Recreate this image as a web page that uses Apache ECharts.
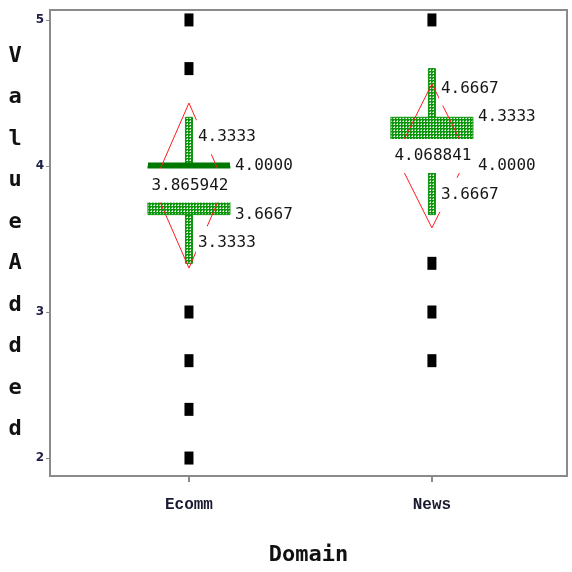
<!DOCTYPE html>
<html>
<head>
<meta charset="utf-8">
<script src="https://cdn.jsdelivr.net/npm/echarts@6/dist/echarts.min.js"></script>
<style>html,body{margin:0;padding:0;background:#fff}#c{width:572px;height:572px}</style>
</head>
<body>
<div id="c"></div>
<script>
// ---- data ----
const categories = ['Ecomm', 'News'];
const ecommPoints = [5, 4.6667, 3, 2.6667, 2.3333, 2];
const newsPoints = [5, 3.3333, 3, 2.6667];
const whiskerLow = [3.3333, 3.6667];
const q1 = [3.6667, 4.0];
const median = [4.0, 4.0];
const q3 = [4.0, 4.3333];
const whiskerHigh = [4.3333, 4.6667];
const means = [3.865942, 4.068841];
const ciHalf = [0.565, 0.493];
const yTicks = [2, 3, 4, 5];

// ---- styling helpers ----
const GREEN = '#0c960c';
const DARKGREEN = '#007800';
function makePattern() {
  const c = document.createElement('canvas');
  c.width = 3; c.height = 3;
  const g = c.getContext('2d');
  g.fillStyle = GREEN; g.fillRect(0, 0, 3, 3);
  g.fillStyle = '#ffffff'; g.fillRect(1, 1, 1, 1);
  g.fillStyle = '#9ad49a'; g.fillRect(1, 0, 1, 1); g.fillRect(0, 1, 1, 1);
  return c;
}
const pattern = { image: makePattern(), repeat: 'repeat' };

const statsData = categories.map((c, i) => [i + 1, whiskerLow[i], q1[i], median[i], q3[i], whiskerHigh[i], means[i], ciHalf[i]]);
const pointsData = [];
ecommPoints.forEach(v => pointsData.push([1, v]));
newsPoints.forEach(v => pointsData.push([2, v]));

const BOX_HALF = 41, WH_HALF = 3.5, DIA_HALF = 36;
const LABEL_FONT = '16px "DejaVu Sans Mono"';

function renderBox(params, api) {
  const x = api.value(0);
  const cx = api.coord([x, 0])[0];
  const yOf = v => api.coord([x, v])[1];
  const wl = api.value(1), lq = api.value(2), md = api.value(3), uq = api.value(4), wh = api.value(5), m = api.value(6), ci = api.value(7);
  return {
    type: 'group',
    children: [
      { type: 'rect', shape: { x: cx - WH_HALF, y: yOf(wh), width: WH_HALF * 2, height: yOf(uq) - yOf(wh) }, style: { fill: pattern, stroke: GREEN, lineWidth: 1 } },
      { type: 'rect', shape: { x: cx - WH_HALF, y: yOf(lq), width: WH_HALF * 2, height: yOf(wl) - yOf(lq) }, style: { fill: pattern, stroke: GREEN, lineWidth: 1 } },
      { type: 'rect', shape: { x: cx - BOX_HALF, y: yOf(uq), width: BOX_HALF * 2, height: yOf(lq) - yOf(uq) }, style: { fill: pattern, stroke: GREEN, lineWidth: 1 } },
      { type: 'rect', shape: { x: cx - BOX_HALF, y: yOf(md) - 3.5, width: BOX_HALF * 2, height: 7 }, style: { fill: DARKGREEN } },
      { type: 'polygon', shape: { points: [[cx, yOf(m + ci)], [cx + DIA_HALF, yOf(m)], [cx, yOf(m - ci)], [cx - DIA_HALF, yOf(m)]] }, style: { fill: 'none', stroke: '#ff1a1a', lineWidth: 1 } }
    ]
  };
}

function lbl(text, x, y, align, padX) {
  return { type: 'text', style: { text: text, x: x, y: y, align: align, verticalAlign: 'middle', font: LABEL_FONT, fill: '#161616', backgroundColor: '#ffffff', padding: [9, padX, 9, padX], lineHeight: 16 } };
}

function renderLabels(params, api) {
  const x = api.value(0);
  const cx = api.coord([x, 0])[0];
  const yOf = v => api.coord([x, v])[1];
  const wl = api.value(1), lq = api.value(2), uq = api.value(4), wh = api.value(5), m = api.value(6);
  const kids = [
    lbl(wh.toFixed(4), cx + 7, yOf(wh) + 20, 'left', 2),
    lbl(wl.toFixed(4), cx + 7, yOf(wl) - 20, 'left', 2),
    lbl(uq.toFixed(4), cx + BOX_HALF + 3, yOf(uq), 'left', 2),
    lbl(lq.toFixed(4), cx + BOX_HALF + 3, yOf(lq), 'left', 2),
    lbl(m.toFixed(6), cx + 1, yOf(m), 'center', 5)
  ];
  return { type: 'group', children: kids };
}

const chart = echarts.init(document.getElementById('c'));
chart.setOption({
  animation: false,
  backgroundColor: '#ffffff',
  grid: { left: 50, right: 5, top: 10, bottom: 96, show: true, borderColor: '#8a8a8a', borderWidth: 2 },
  xAxis: {
    type: 'value', min: 0.428, max: 2.556,
    name: 'Domain', nameLocation: 'middle', nameGap: 68,
    nameTextStyle: { fontFamily: 'DejaVu Sans Mono', fontWeight: 'bold', fontSize: 22, color: '#111' },
    axisLine: { show: true, lineStyle: { color: '#8a8a8a', width: 2 } },
    axisTick: { show: true, customValues: [1, 2], length: 6, lineStyle: { color: '#8a8a8a', width: 2 } },
    axisLabel: { customValues: [1, 2], formatter: v => categories[Math.round(v) - 1], margin: 21, fontFamily: 'Liberation Mono', fontWeight: 'bold', fontSize: 16, color: '#1a1a30' },
    splitLine: { show: false }
  },
  yAxis: {
    type: 'value', min: 1.877, max: 5.068,
    name: 'ValueAdded'.split('').join('\n'), nameLocation: 'middle', nameRotate: 0, nameGap: 35,
    nameTextStyle: { fontFamily: 'DejaVu Sans Mono', fontWeight: 'bold', fontSize: 22, lineHeight: 41.5, align: 'center', color: '#111', padding: [10, 0, 0, 0] },
    axisLine: { show: true, lineStyle: { color: '#8a8a8a', width: 2 } },
    axisTick: { show: true, customValues: yTicks, length: 4, lineStyle: { color: '#8a8a8a', width: 1 } },
    axisLabel: { customValues: yTicks, margin: 6, fontFamily: 'DejaVu Sans', fontWeight: 'bold', fontSize: 12, color: '#202048' },
    splitLine: { show: false }
  },
  series: [
    { type: 'scatter', data: pointsData, symbol: 'rect', symbolSize: [9, 13], itemStyle: { color: '#000', opacity: 1 }, z: 2 },
    { type: 'custom', data: statsData, renderItem: renderBox, z: 3 },
    { type: 'custom', data: statsData, renderItem: renderLabels, z: 4 }
  ]
});
</script>
</body>
</html>
